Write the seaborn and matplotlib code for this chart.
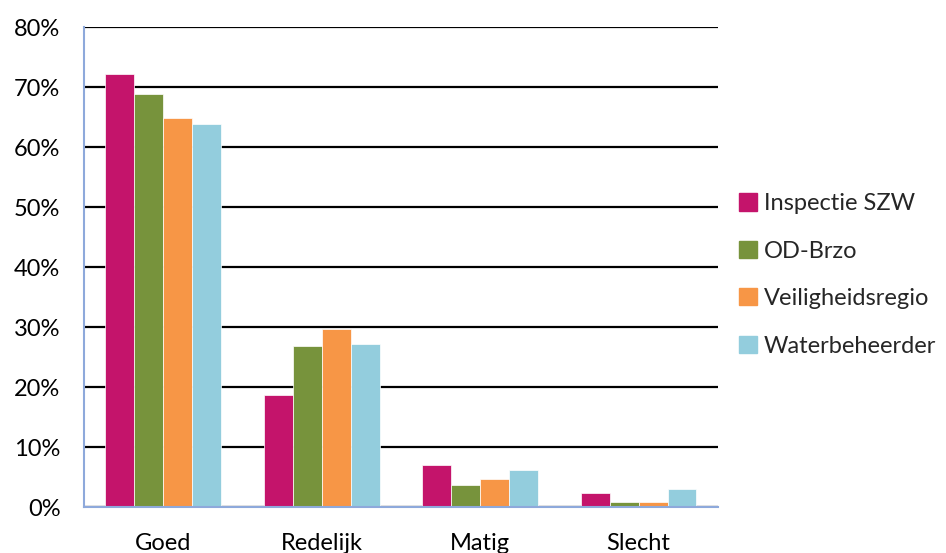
import seaborn as sns
import matplotlib.pyplot as plt
import pandas as pd
from matplotlib.ticker import PercentFormatter

categories = ['Goed', 'Redelijk', 'Matig', 'Slecht']
inspectie_szw = [72.2, 18.7, 7.0, 2.3]
od_brzo = [68.8, 26.8, 3.7, 0.8]
veiligheidsregio = [64.8, 29.7, 4.7, 0.8]
waterbeheerder = [63.8, 27.2, 6.2, 3.0]

series = ['Inspectie SZW', 'OD-Brzo', 'Veiligheidsregio', 'Waterbeheerder']
colors = ['#C4146B', '#77933C', '#F79646', '#93CDDD']

rows = []
for name, vals in zip(series, [inspectie_szw, od_brzo, veiligheidsregio, waterbeheerder]):
    for cat, v in zip(categories, vals):
        rows.append({'categorie': cat, 'organisatie': name, 'waarde': v})
df = pd.DataFrame(rows)

sns.set_style('white')
plt.rcParams['font.family'] = ['Lato', 'DejaVu Sans']

fig = plt.figure(figsize=(9.46, 5.53), dpi=100)
ax = fig.add_axes([0.0888, 0.083, 0.670, 0.868])

# gridlines behind the bars
ax.set_axisbelow(True)
ax.yaxis.grid(True, color='black', linewidth=1.6)

sns.barplot(data=df, x='categorie', y='waarde', hue='organisatie',
            palette=colors, saturation=1, width=0.73, gap=0, ax=ax,
            legend=False, edgecolor='white', linewidth=0.5)

ax.set_ylim(0, 80)
ax.set_yticks(range(0, 81, 10))
ax.yaxis.set_major_formatter(PercentFormatter(decimals=0))
ax.set_xlim(-0.5, 3.5)
ax.set_xlabel('')
ax.set_ylabel('')

for side in ['top', 'right']:
    ax.spines[side].set_visible(False)
for side in ['left', 'bottom']:
    ax.spines[side].set_color('#8EA9DB')
    ax.spines[side].set_linewidth(1.5)

ax.tick_params(axis='y', labelsize=17, length=0, pad=17, colors='black')
ax.tick_params(axis='x', labelsize=17, length=0, pad=19, colors='black')

handles = [plt.Rectangle((0, 0), 1, 1, color=c) for c in colors]
fig.legend(handles, series, loc='center left', bbox_to_anchor=(0.781, 0.503),
           frameon=False, fontsize=17, handlelength=0.75, handleheight=0.75,
           handletextpad=0.3, labelspacing=1.12, borderaxespad=0, borderpad=0)

fig.savefig('out.png', dpi=100)
